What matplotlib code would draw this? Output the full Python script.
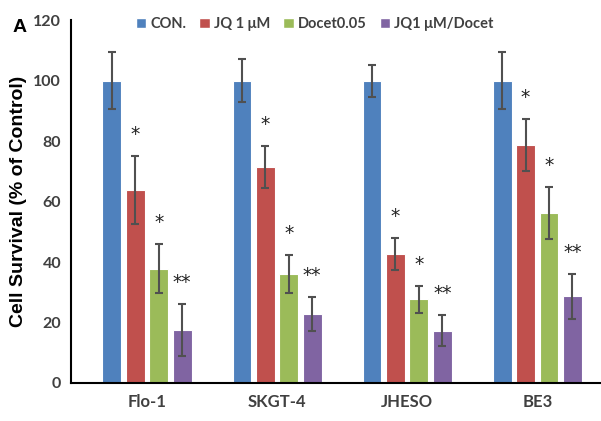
import matplotlib
matplotlib.use("Agg")
import matplotlib.pyplot as plt
from matplotlib.patches import Patch
import numpy as np

categories = ["Flo-1", "SKGT-4", "JHESO", "BE3"]
series_names = ["CON.", "JQ 1 μM", "Docet0.05", "JQ1 μM/Docet"]
values = {
    "CON.":          [100.0, 100.0, 100.0, 100.0],
    "JQ 1 μM":       [63.9, 71.4, 42.6, 78.6],
    "Docet0.05":     [37.8, 36.0, 27.7, 56.1],
    "JQ1 μM/Docet":  [17.4, 22.9, 17.3, 28.6],
}
errors = {
    "CON.":          [9.3, 7.1, 5.3, 9.3],
    "JQ 1 μM":       [11.2, 7.0, 5.2, 8.6],
    "Docet0.05":     [8.0, 6.4, 4.4, 8.6],
    "JQ1 μM/Docet":  [8.6, 5.6, 5.2, 7.5],
}
marks = {
    "CON.":          ["", "", "", ""],
    "JQ 1 μM":       ["*", "*", "*", "*"],
    "Docet0.05":     ["*", "*", "*", "*"],
    "JQ1 μM/Docet":  ["**", "**", "**", "**"],
}
colors = ["#4F81BD", "#C0504D", "#9BBB59", "#8064A2"]
yticks = [0, 20, 40, 60, 80, 100, 120]

plt.rcParams['font.family'] = ['Lato', 'DejaVu Sans']

fig = plt.figure(figsize=(6.01, 4.21), dpi=100)
ax = fig.add_axes([0.118, 0.0903, 0.882, 0.862])

x = np.arange(len(categories))
step = 0.18
width = 0.145
for i, name in enumerate(series_names):
    pos = x + (i - 1.5) * step
    ax.bar(pos, values[name], width=width, color=colors[i], edgecolor="white",
           linewidth=0.8, zorder=2)
    ax.errorbar(pos, values[name], yerr=errors[name], fmt="none",
                ecolor="#505050", elinewidth=1.5, capsize=3, capthick=1.5, zorder=3)
    for p, v, e, m in zip(pos, values[name], errors[name], marks[name]):
        if m:
            ax.text(p, v + e + 4.0, m, ha="center", va="bottom", fontsize=13.5,
                    color="#202020", family="DejaVu Sans", zorder=4)

ax.set_xlim(-0.585, 3.49)
ax.set_ylim(0, 120)
ax.set_yticks(yticks)
ax.set_yticklabels([str(t) for t in yticks], fontsize=11.5, fontweight="bold", color="#404040")
ax.set_xticks(x)
ax.set_xticklabels(categories, fontsize=12, fontweight="bold", color="#404040")
ax.tick_params(axis="both", length=0)
ax.tick_params(axis="y", pad=7)
ax.tick_params(axis="x", pad=8)
for s in ["top", "right"]:
    ax.spines[s].set_visible(False)
ax.spines["left"].set_color("black")
ax.spines["left"].set_linewidth(1.5)
ax.spines["bottom"].set_color("black")
ax.spines["bottom"].set_linewidth(1.5)

ax.set_ylabel("Cell Survival (% of Control)", fontsize=14, fontweight="bold",
              family="Liberation Sans")
ax.yaxis.set_label_coords(-0.082, 0.5)

handles = [Patch(facecolor=c, edgecolor="white") for c in colors]
leg = ax.legend(handles, series_names, loc="upper center", bbox_to_anchor=(0.46, 1.045),
                ncol=4, frameon=False, handlelength=0.7, handleheight=0.7,
                handletextpad=0.3, columnspacing=0.9,
                prop={"size": 10.5, "weight": "bold"})
for t in leg.get_texts():
    t.set_color("#404040")

fig.text(0.02, 0.925, "A", fontsize=14, fontweight="bold", family="Liberation Sans")

fig.savefig("out.png", dpi=100)
